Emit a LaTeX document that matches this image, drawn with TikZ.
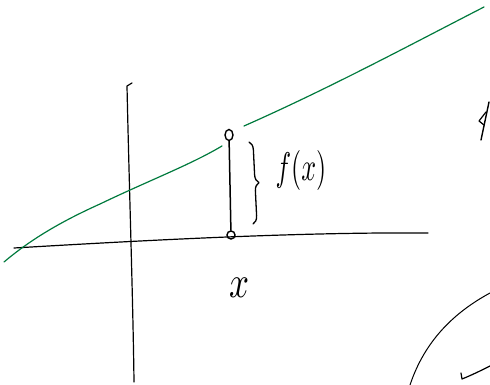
\documentclass[tikz,border=0pt]{standalone}
\usetikzlibrary{decorations.pathreplacing}
\definecolor{pen}{RGB}{0,122,61}
\tikzset{
  ink/.style={line width=1.2pt, line cap=round, line join=round, black},
  greenink/.style={line width=1.2pt, line cap=round, pen},
  dot/.style={ellipse, draw, line width=1.4pt, minimum width=8pt, minimum height=8pt, inner sep=0pt},
  hand/.style={inner sep=0pt}
}
\usetikzlibrary{shapes.geometric}
\begin{document}
\begin{tikzpicture}[x=1pt,y=-1pt]
\useasboundingbox (0,0) rectangle (490,385);
% axes
\draw[ink] (14,248) .. controls (150,240) and (300,232) .. (428,233);
\draw[ink] (132,83) -- (127,86) .. controls (129,180) and (133,300) .. (134,382);
% green line
\draw[greenink] (4,262) .. controls (30,240) and (60,222) .. (100,204) .. controls (150,180) and (190,165) .. (222,146);
\draw[greenink] (244,126) .. controls (330,88) and (410,45) .. (484,7);
% point and segment
\node[dot, minimum height=11pt] (top) at (229,135) {};
\node[dot] (bot) at (231,235) {};
\draw[ink, line width=1.5pt] (top) -- (bot);
% brace
\draw[ink, line width=1.3pt, decorate, decoration={brace, amplitude=8pt}] (249,142) -- (253,224);
% labels
\node[hand] (fx) at (301,170) {\scalebox{2.6}[4]{$f(x)$}};
\node[hand] (xl) at (239,288) {\scalebox{3.5}[4.5]{$x$}};
% right edge marks
\draw[ink, line width=1.4pt] (481,140) -- (489,102);
\draw[ink, line width=1.2pt] (486,112) -- (479,121) -- (484,125);
\draw[ink, line width=1pt] (410,385) .. controls (425,340) and (455,312) .. (490,293);
\draw[ink, line width=1.2pt] (461,373) -- (462,379) .. controls (472,375) and (482,370) .. (490,366);
\end{tikzpicture}
\end{document}
